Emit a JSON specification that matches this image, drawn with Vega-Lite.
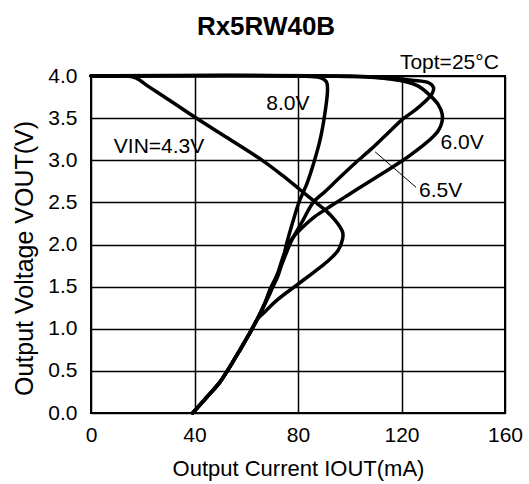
{
  "$schema": "https://vega.github.io/schema/vega-lite/v6.json",
  "width": 414,
  "height": 337,
  "autosize": "none",
  "padding": {"left": 91, "top": 76, "right": 24, "bottom": 71},
  "background": "white",
  "title": {"text": "Rx5RW40B", "fontSize": 26, "fontWeight": "bold", "color": "black", "anchor": "middle", "dx": -32, "offset": 12, "font": "Liberation Sans"},
  "config": {
    "font": "Liberation Sans",
    "view": {"stroke": "black", "strokeWidth": 2},
    "axis": {"domain": false, "ticks": false, "grid": true, "gridColor": "black", "gridWidth": 1.5, "gridOpacity": 1, "labelColor": "black", "titleColor": "black", "labelFontSize": 21, "titleFontSize": 22, "titleFontWeight": "normal", "labelFlush": false, "labelOverlap": false, "labelFont": "Liberation Sans", "titleFont": "Liberation Sans"}
  },
  "layer": [
    {
      "data": {"values": [
        {"s":"4.3V","i":0,"x":0,"y":4.0},{"s":"4.3V","i":1,"x":8,"y":4.0},{"s":"4.3V","i":2,"x":14,"y":4.0},{"s":"4.3V","i":3,"x":17.5,"y":3.975},{"s":"4.3V","i":4,"x":22,"y":3.88},{"s":"4.3V","i":5,"x":28,"y":3.76},{"s":"4.3V","i":6,"x":40.2,"y":3.51},{"s":"4.3V","i":7,"x":53,"y":3.26},{"s":"4.3V","i":8,"x":66.6,"y":2.99},{"s":"4.3V","i":9,"x":74,"y":2.82},{"s":"4.3V","i":10,"x":80.8,"y":2.65},{"s":"4.3V","i":11,"x":86,"y":2.52},{"s":"4.3V","i":12,"x":91.2,"y":2.39},{"s":"4.3V","i":13,"x":94.3,"y":2.29},{"s":"4.3V","i":14,"x":96.2,"y":2.21},{"s":"4.3V","i":15,"x":97.3,"y":2.14},{"s":"4.3V","i":16,"x":97.2,"y":2.06},{"s":"4.3V","i":17,"x":95.5,"y":1.93},{"s":"4.3V","i":18,"x":91.8,"y":1.81},{"s":"4.3V","i":19,"x":87.3,"y":1.70},{"s":"4.3V","i":20,"x":79.6,"y":1.52},{"s":"4.3V","i":21,"x":71.9,"y":1.34},{"s":"4.3V","i":22,"x":66.8,"y":1.19},{"s":"4.3V","i":23,"x":64.2,"y":1.11},{"s":"4.3V","i":24,"x":61.4,"y":0.95},{"s":"4.3V","i":25,"x":57.6,"y":0.75},{"s":"4.3V","i":26,"x":53.7,"y":0.55},{"s":"4.3V","i":27,"x":49.9,"y":0.37},{"s":"4.3V","i":28,"x":44.8,"y":0.19},{"s":"4.3V","i":29,"x":39.3,"y":0.0},
        {"s":"8.0V","i":0,"x":0,"y":4.0},{"s":"8.0V","i":1,"x":80,"y":4.0},{"s":"8.0V","i":2,"x":88.5,"y":3.98},{"s":"8.0V","i":3,"x":91.0,"y":3.93},{"s":"8.0V","i":4,"x":91.4,"y":3.83},{"s":"8.0V","i":5,"x":90.6,"y":3.6},{"s":"8.0V","i":6,"x":88.6,"y":3.25},{"s":"8.0V","i":7,"x":86.2,"y":2.98},{"s":"8.0V","i":8,"x":83.4,"y":2.72},{"s":"8.0V","i":9,"x":80.6,"y":2.52},{"s":"8.0V","i":10,"x":78,"y":2.27},{"s":"8.0V","i":11,"x":75.7,"y":2.02},{"s":"8.0V","i":12,"x":73.8,"y":1.78},{"s":"8.0V","i":13,"x":71.9,"y":1.60},{"s":"8.0V","i":14,"x":69.2,"y":1.44},{"s":"8.0V","i":15,"x":66.5,"y":1.26},{"s":"8.0V","i":16,"x":64.2,"y":1.11},{"s":"8.0V","i":17,"x":61.4,"y":0.95},{"s":"8.0V","i":18,"x":57.6,"y":0.75},{"s":"8.0V","i":19,"x":53.7,"y":0.55},{"s":"8.0V","i":20,"x":49.9,"y":0.37},{"s":"8.0V","i":21,"x":44.8,"y":0.19},{"s":"8.0V","i":22,"x":39.3,"y":0.0},
        {"s":"6.5V","i":0,"x":0,"y":4.0},{"s":"6.5V","i":1,"x":100,"y":4.0},{"s":"6.5V","i":2,"x":114,"y":3.98},{"s":"6.5V","i":3,"x":124,"y":3.95},{"s":"6.5V","i":4,"x":130.5,"y":3.92},{"s":"6.5V","i":5,"x":132.4,"y":3.86},{"s":"6.5V","i":6,"x":131.8,"y":3.79},{"s":"6.5V","i":7,"x":129.9,"y":3.72},{"s":"6.5V","i":8,"x":125.5,"y":3.60},{"s":"6.5V","i":9,"x":120.6,"y":3.49},{"s":"6.5V","i":10,"x":114,"y":3.30},{"s":"6.5V","i":11,"x":107.8,"y":3.12},{"s":"6.5V","i":12,"x":101.5,"y":2.95},{"s":"6.5V","i":13,"x":95.6,"y":2.78},{"s":"6.5V","i":14,"x":90.5,"y":2.63},{"s":"6.5V","i":15,"x":85.9,"y":2.50},{"s":"6.5V","i":16,"x":81.8,"y":2.28},{"s":"6.5V","i":17,"x":77.4,"y":2.04},{"s":"6.5V","i":18,"x":73.8,"y":1.77},{"s":"6.5V","i":19,"x":71.3,"y":1.60},{"s":"6.5V","i":20,"x":69.2,"y":1.47},{"s":"6.5V","i":21,"x":66.9,"y":1.28},{"s":"6.5V","i":22,"x":64.2,"y":1.11},{"s":"6.5V","i":23,"x":61.4,"y":0.95},{"s":"6.5V","i":24,"x":57.6,"y":0.75},{"s":"6.5V","i":25,"x":53.7,"y":0.55},{"s":"6.5V","i":26,"x":49.9,"y":0.37},{"s":"6.5V","i":27,"x":44.8,"y":0.19},{"s":"6.5V","i":28,"x":39.3,"y":0.0},
        {"s":"6.0V","i":0,"x":0,"y":4.0},{"s":"6.0V","i":1,"x":105,"y":3.99},{"s":"6.0V","i":2,"x":114,"y":3.97},{"s":"6.0V","i":3,"x":120.6,"y":3.94},{"s":"6.0V","i":4,"x":126.5,"y":3.88},{"s":"6.0V","i":5,"x":131,"y":3.77},{"s":"6.0V","i":6,"x":134.2,"y":3.66},{"s":"6.0V","i":7,"x":135.7,"y":3.55},{"s":"6.0V","i":8,"x":135.6,"y":3.45},{"s":"6.0V","i":9,"x":134.2,"y":3.35},{"s":"6.0V","i":10,"x":132.2,"y":3.28},{"s":"6.0V","i":11,"x":126,"y":3.12},{"s":"6.0V","i":12,"x":120.6,"y":3.0},{"s":"6.0V","i":13,"x":114,"y":2.87},{"s":"6.0V","i":14,"x":107.8,"y":2.75},{"s":"6.0V","i":15,"x":100,"y":2.60},{"s":"6.0V","i":16,"x":92.4,"y":2.45},{"s":"6.0V","i":17,"x":86.5,"y":2.33},{"s":"6.0V","i":18,"x":82.0,"y":2.21},{"s":"6.0V","i":19,"x":78.8,"y":2.11},{"s":"6.0V","i":20,"x":76.9,"y":2.03},{"s":"6.0V","i":21,"x":74.3,"y":1.86},{"s":"6.0V","i":22,"x":71.8,"y":1.62},{"s":"6.0V","i":23,"x":69.2,"y":1.42},{"s":"6.0V","i":24,"x":66.5,"y":1.25},{"s":"6.0V","i":25,"x":64.2,"y":1.11},{"s":"6.0V","i":26,"x":61.4,"y":0.95},{"s":"6.0V","i":27,"x":57.6,"y":0.75},{"s":"6.0V","i":28,"x":53.7,"y":0.55},{"s":"6.0V","i":29,"x":49.9,"y":0.37},{"s":"6.0V","i":30,"x":44.8,"y":0.19},{"s":"6.0V","i":31,"x":39.3,"y":0.0}
      ]},
      "mark": {"type": "line", "color": "black", "strokeWidth": 3.5, "strokeJoin": "round", "strokeCap": "round", "interpolate": "catmull-rom"},
      "encoding": {
        "x": {"field": "x", "type": "quantitative", "scale": {"domain": [0, 160], "nice": false}, "axis": {"values": [0, 40, 80, 120, 160], "labelPadding": 11, "title": "Output Current IOUT(mA)", "titlePadding": 13}},
        "y": {"field": "y", "type": "quantitative", "scale": {"domain": [0, 4], "nice": false}, "axis": {"values": [0, 0.5, 1, 1.5, 2, 2.5, 3, 3.5, 4], "format": ".1f", "labelPadding": 14, "title": "Output Voltage VOUT(V)", "titlePadding": 10, "titleFontSize": 25, "titleY": 182}},
        "detail": {"field": "s"},
        "order": {"field": "i", "type": "quantitative"}
      }
    },
    {
      "data": {"values": [
        {"p": 0, "x": 109.8, "y": 3.10},
        {"p": 1, "x": 125.6, "y": 2.68}
      ]},
      "mark": {"type": "line", "color": "black", "strokeWidth": 1},
      "encoding": {
        "x": {"field": "x", "type": "quantitative"},
        "y": {"field": "y", "type": "quantitative"},
        "order": {"field": "p", "type": "quantitative"}
      }
    },
    {
      "data": {"values": [
        {"label": "Topt=25°C", "x": 138.5, "y": 4.16},
        {"label": "8.0V", "x": 76.1, "y": 3.67},
        {"label": "VIN=4.3V", "x": 26.3, "y": 3.16},
        {"label": "6.0V", "x": 143.4, "y": 3.21},
        {"label": "6.5V", "x": 135.1, "y": 2.64}
      ]},
      "mark": {"type": "text", "color": "black", "fontSize": 21, "align": "center", "baseline": "middle", "font": "Liberation Sans"},
      "encoding": {
        "x": {"field": "x", "type": "quantitative"},
        "y": {"field": "y", "type": "quantitative"},
        "text": {"field": "label"}
      }
    }
  ]
}
